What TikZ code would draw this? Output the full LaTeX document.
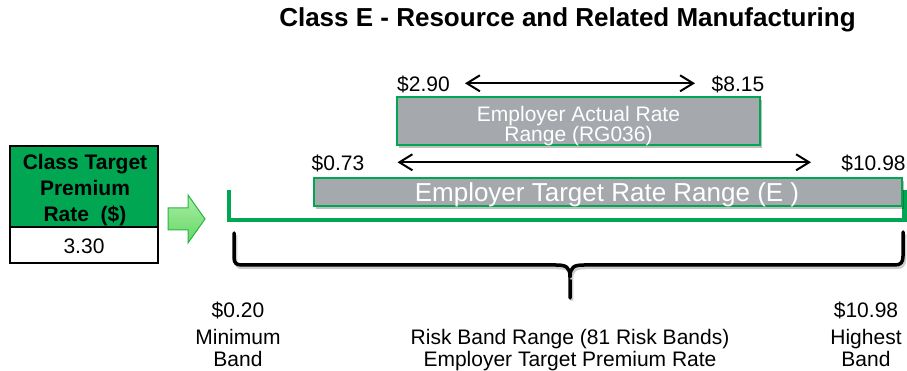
\documentclass[tikz,border=0pt]{standalone}
\usepackage{fontspec}
\setmainfont{Liberation Sans}
\usetikzlibrary{arrows.meta,shadows}
\definecolor{pgreen}{RGB}{0,166,81}
\definecolor{pgray}{RGB}{165,169,174}
\definecolor{lgreen}{RGB}{170,238,165}
\definecolor{mgreen}{RGB}{100,215,100}
\definecolor{agreen}{RGB}{40,180,70}
\begin{document}
\begin{tikzpicture}[x=1pt,y=-1pt,
  lbl/.style={anchor=base, inner sep=0pt, font=\fontsize{21}{24}\selectfont},
  boxlbl/.style={anchor=base, inner sep=0pt, font=\fontsize{21}{24}\selectfont\bfseries},
  wlbl/.style={anchor=base, inner sep=0pt, text=white},
  graybox/.style={draw=pgreen, line width=1.5pt, fill=pgray, inner sep=0pt,
    drop shadow={shadow xshift=2pt, shadow yshift=-3pt, fill=black, opacity=0.25}},
  dimarrow/.style={line width=2pt, {Straight Barb[length=13pt,width=16pt]}-{Straight Barb[length=13pt,width=16pt]}},
  brace/.style={line width=3.5pt, line cap=round, line join=round,
    preaction={draw=black!20, line width=3.5pt, transform canvas={xshift=1.5pt,yshift=-2.5pt}}}
]
\useasboundingbox (0,0) rectangle (907,371);

% title
\node[anchor=base, inner sep=0pt, font=\fontsize{26}{30}\selectfont\bfseries] (title) at (567.5,27) {Class E - Resource and Related Manufacturing};

% left box
\node[draw=black, line width=2pt, fill=pgreen, minimum width=148, minimum height=81, inner sep=0pt] (hdr) at (84,186.5) {};
\node[draw=black, line width=2pt, fill=white, minimum width=148, minimum height=36, inner sep=0pt] (val) at (84,245) {};
\node[boxlbl] (h1) at (85,170) {Class Target};
\node[boxlbl] (h2) at (85,195.7) {Premium};
\node[boxlbl] (h3) at (85,221.5) {Rate\ \ (\$)};
\node[lbl] (v1) at (84,253.3) {3.30};

% block arrow
\draw[draw=agreen, line width=1pt, top color=lgreen, bottom color=mgreen]
  (168,208) -- (188,208) -- (188,195) -- (205,219) -- (188,243) -- (188,230) -- (168,230) -- cycle;

% green L frame
\draw[pgreen, line width=4.5pt] (229,190) -- (229,220) -- (904.5,220) -- (904.5,190);

% target range box
\node[graybox, minimum width=588, minimum height=28] (erange) at (608,192) {};
\node[wlbl, font=\fontsize{26}{28}\selectfont] (etext) at (607,202) {Employer Target Rate Range (E )};

% actual range box
\node[graybox, minimum width=363, minimum height=48] (arange) at (578.5,121) {};
\node[wlbl, font=\fontsize{21}{24}\selectfont] (at1) at (578.5,122) {Employer Actual Rate};
\node[wlbl, font=\fontsize{21}{24}\selectfont] (at2) at (578.5,141.5) {Range (RG036)};

% top arrow
\node[lbl] (p290) at (423.5,91.7) {\$2.90};
\node[lbl] (p815) at (738,91.7) {\$8.15};
\coordinate (a1l) at (465,83.3);
\coordinate (a1r) at (695,83.3);
\draw[dimarrow] (a1l) -- (a1r);

% middle arrow
\node[lbl] (p073) at (338,170.7) {\$0.73};
\node[lbl] (p1098a) at (873.5,170.7) {\$10.98};
\coordinate (a2l) at (397.5,162.3);
\coordinate (a2r) at (811,162.3);
\draw[dimarrow] (a2l) -- (a2r);

% brace
\draw[brace] (234,233) -- (234,257) .. controls (234,263) and (236,265) .. (242,265)
  -- (556,265) .. controls (566,265) and (570,267) .. (570,277) -- (570,298);
\draw[brace] (570,277) .. controls (570,267) and (574,265) .. (584,265)
  -- (895,265) .. controls (901,265) and (903,262) .. (903,256) -- (903,232);

% bottom labels
\node[lbl] (b1) at (238,317.7) {\$0.20};
\node[lbl] (b2) at (238,344) {Minimum};
\node[lbl] (b3) at (238,366.5) {Band};
\node[lbl] (c1) at (570,344) {Risk Band Range (81 Risk Bands)};
\node[lbl] (c2) at (570,366.5) {Employer Target Premium Rate};
\node[lbl] (r1) at (866,317.7) {\$10.98};
\node[lbl] (r2) at (866,344) {Highest};
\node[lbl] (r3) at (866,366.5) {Band};
\end{tikzpicture}
\end{document}
